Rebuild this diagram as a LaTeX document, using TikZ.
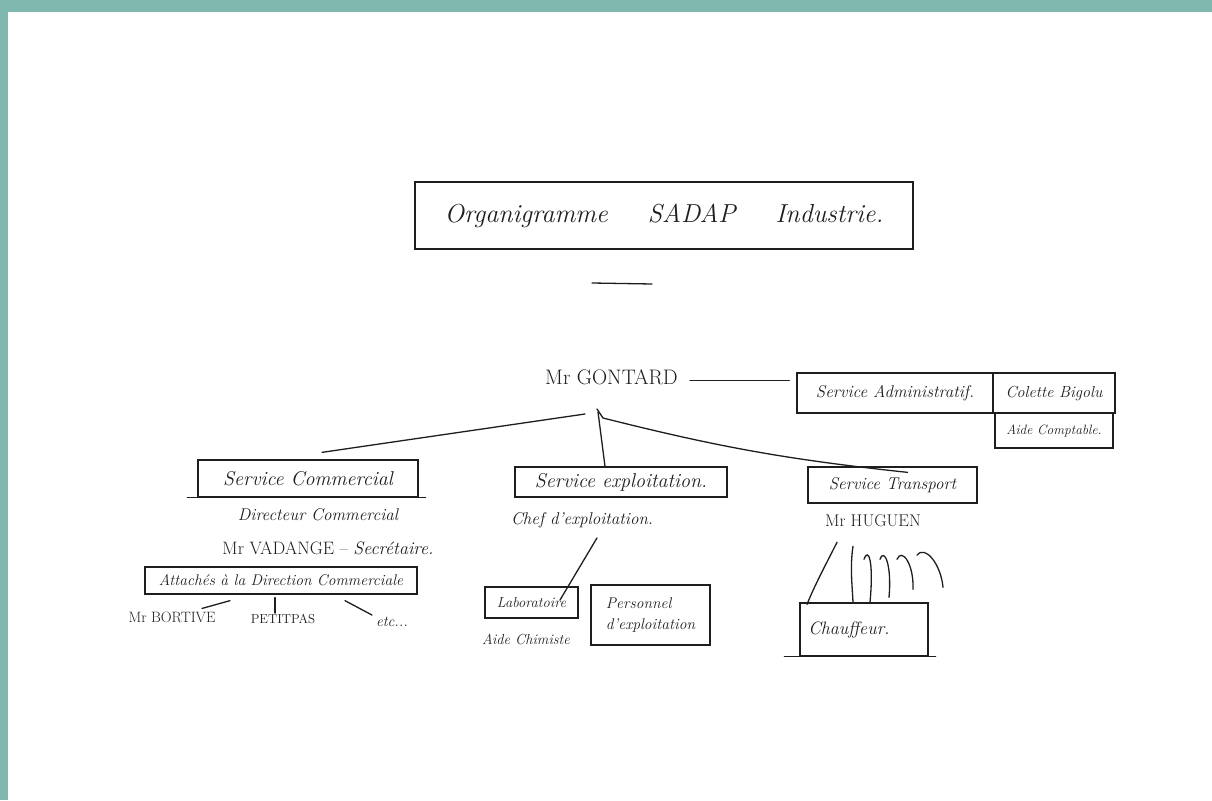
\documentclass[tikz,border=0pt]{standalone}
\usepackage{fontspec}
\definecolor{frameteal}{HTML}{7FB8AE}
\definecolor{ink}{HTML}{1E1E1E}
\tikzset{
  box/.style={draw=ink, line width=1.3pt, inner sep=0pt, text=ink, font=\itshape},
  lbl/.style={inner sep=0pt, text=ink},
  link/.style={draw=ink, line width=1.3pt, line cap=round},
}
\newcommand{\fsz}[1]{\fontsize{#1}{#1}\selectfont}
\begin{document}
\begin{tikzpicture}[x=1pt,y=-1pt]
\fill[white] (0,0) rectangle (1212,800);
\useasboundingbox (0,0) rectangle (1212,800);
\fill[frameteal] (0,0) rectangle (1212,12);
\fill[frameteal] (0,0) rectangle (8,800);

% title
\node[box, minimum width=498pt, minimum height=67pt, font=\itshape\fsz{26}] (title) at (664,215.5)
  {Organigramme\hspace{40pt}SADAP\hspace{40pt}Industrie.};
\draw[link] (592,283) -- (652,284);

% top
\node[lbl, anchor=base west, font=\fsz{21}] (gontard) at (545,384) {Mr GONTARD};
\node[box, minimum width=196pt, minimum height=40pt, font=\itshape\fsz{17}] (admin) at (895,393) {Service Administratif.};
\node[box, minimum width=122pt, minimum height=40pt, font=\itshape\fsz{16}] (colette) at (1054,393) {Colette Bigolu};
\node[box, minimum width=118pt, minimum height=35pt, font=\itshape\fsz{13.5}] (aidecompta) at (1054,430.5) {Aide Comptable.};
\draw[link] ([shift={(12,4)}]gontard.east) -- ([shift={(-7,4)}]gontard.east -| admin.west);

% services
\node[box, minimum width=220pt, minimum height=37pt, font=\itshape\fsz{20}] (comm) at (308,478.5) {Service Commercial};
\draw[link] ([xshift=-10pt]comm.south west) -- ([xshift=7pt]comm.south east);
\node[box, minimum width=212pt, minimum height=30pt, font=\itshape\fsz{20}] (expl) at (621,482) {Service exploitation.};
\node[box, minimum width=169pt, minimum height=36pt, font=\itshape\fsz{17}] (trans) at (892.5,485) {Service Transport};

\coordinate (gfoot) at (598,412);
\draw[link] ([shift={(-13,2)}]gfoot) -- ([shift={(14,-7)}]comm.north);
\draw[link] (gfoot) -- ([xshift=-16pt]expl.north);
\draw[link] ([shift={(-1,-3)}]gfoot) -- ([shift={(5,6)}]gfoot) to[bend right=4] ([shift={(15,6)}]trans.north);

% commercial branch
\node[lbl, font=\itshape\fsz{17}] (dircomm) at (318,515) {Directeur Commercial};
\node[lbl, font=\fsz{18}] (vadange) at (328,548) {Mr VADANGE -- \textit{Secrétaire.}};
\node[box, minimum width=272pt, minimum height=27pt, font=\itshape\fsz{15.5}] (attaches) at (281,580.5) {Attachés à la Direction Commerciale};
\node[lbl, font=\fsz{15}] (bortive) at (172,617) {Mr BORTIVE};
\node[lbl, font=\fsz{13}] (petitpas) at (283,619) {PETITPAS};
\node[lbl, font=\itshape\fsz{15}] (etc) at (392,622) {etc...};
\draw[link] ([shift={(-51,6)}]attaches.south) -- ([shift={(30,-3)}]bortive.north);
\draw[link] ([shift={(-6,3)}]attaches.south) -- ([shift={(-8,-1)}]petitpas.north);
\draw[link] ([shift={(64,6)}]attaches.south) -- ([shift={(-20,-2)}]etc.north);

% exploitation branch
\node[lbl, font=\itshape\fsz{17}] (chef) at (582,520) {Chef d'exploitation.};
\node[box, minimum width=93pt, minimum height=31pt, font=\itshape\fsz{14.5}] (labo) at (531.5,602.5) {Laboratoire};
\node[lbl, font=\itshape\fsz{14.5}] (aidechim) at (526,639) {Aide Chimiste};
\node[box, minimum width=119pt, minimum height=60pt, align=left, font=\itshape\fsz{15.5}] (perso) at (650.5,615) {Personnel\\[5pt]d'exploitation};
\draw[link] ([shift={(15,10)}]chef.south) -- ([shift={(28.5,-2.5)}]labo.center);

% transport branch
\node[lbl, font=\fsz{17}] (huguen) at (873,521) {Mr HUGUEN};
\node[box, minimum width=128pt, minimum height=53pt, font=\itshape\fsz{18}] (chauf) at (864,629.5) {Chauffeur.\hspace*{30pt}};
\draw[link] ([xshift=-15pt]chauf.south west) -- ([xshift=7pt]chauf.south east);
\draw[link] ([shift={(-36,15)}]huguen.south) .. controls +(-10,20) and +(8,-20) .. ([shift={(-57,2)}]chauf.north);
\draw[link] ([shift={(-20,19)}]huguen.south) .. controls +(-3,20) and +(-1,-20) .. ([shift={(-11,0)}]chauf.north);
\draw[link] ([shift={(-9,32)}]huguen.south) .. controls +(4,-12) and +(4,-43) .. ([shift={(6,0)}]chauf.north);
\draw[link] ([shift={(7,32)}]huguen.south) .. controls +(4,-12) and +(3,-33) .. ([shift={(25,-5)}]chauf.north);
\draw[link] ([shift={(24,32)}]huguen.south) .. controls +(5,-12) and +(1,-25) .. ([shift={(49,-13)}]chauf.north);
\draw[link] ([shift={(44,28)}]huguen.south) .. controls +(8,-11) and +(-2,-23) .. ([shift={(79,-15)}]chauf.north);
\end{tikzpicture}
\end{document}
